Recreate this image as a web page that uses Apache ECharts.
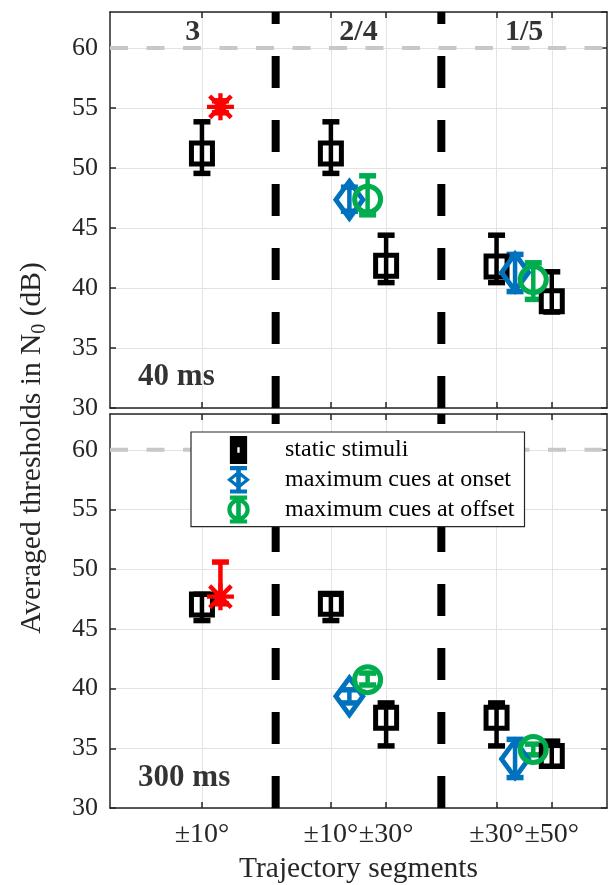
<!DOCTYPE html>
<html>
<head>
<meta charset="utf-8">
<script src="https://cdn.jsdelivr.net/npm/echarts@6/dist/echarts.min.js"></script>
<style>
  html, body { margin: 0; padding: 0; background: #fff; }
  #chart { width: 609px; height: 885px; }
</style>
</head>
<body>
<div id="chart"></div>
<script>
// axis ticks (x in segment units, 0..18)
const tickValues = [3.33, 8, 10, 14, 16];
const tickLabels = ['±10°', '±10°', '±30°', '±30°', '±50°'];
const segmentX = [3, 9, 15];
const segmentY = 61.3;
const segmentLabels = ['3', '2/4', '1/5'];
const boundaries = [6, 12];
const refLevel = 60;
const panelNames = ['40 ms', '300 ms'];

// 40 ms panel
const static40X = [3.33, 8, 10, 14, 16];
const static40Y = [51.2, 51.2, 41.85, 41.8, 38.9];
const static40Lo = [49.55, 49.55, 40.45, 40.45, 38.0];
const static40Hi = [53.85, 53.85, 44.4, 44.4, 41.35];
const onset40X = [8.67, 14.67];
const onset40Y = [47.35, 41.3];
const onset40Lo = [46.4, 39.7];
const onset40Hi = [48.4, 42.8];
const offset40X = [9.33, 15.33];
const offset40Y = [47.4, 40.7];
const offset40Lo = [46.1, 39.05];
const offset40Hi = [49.35, 42.1];
const moving40X = [4.0];
const moving40Y = [55.1];
const moving40Lo = [54.6];
const moving40Hi = [55.6];

// 300 ms panel
const static300X = [3.33, 8, 10, 14, 16];
const static300Y = [47.05, 47.1, 37.55, 37.55, 34.35];
const static300Lo = [45.7, 45.7, 35.2, 35.2, 33.5];
const static300Hi = [47.9, 47.9, 38.8, 38.8, 35.6];
const onset300X = [8.67, 14.67];
const onset300Y = [39.35, 34.1];
const onset300Lo = [38.8, 32.55];
const onset300Hi = [39.9, 35.75];
const offset300X = [9.33, 15.33];
const offset300Y = [40.75, 34.9];
const offset300Lo = [40.3, 34.45];
const offset300Hi = [41.3, 35.35];
const moving300X = [4.0];
const moving300Y = [47.7];
const moving300Lo = [47.1];
const moving300Hi = [50.6];

const FONT = 'Liberation Serif';
const AX = '#262626';
const BLUE = '#0072BD';
const GREEN = '#00AD4E';
const RED = '#FF0000';

const ASTERISK = 'path://M42,0H58V100H42Z M0,42H100V58H0Z M15.7,4.3L95.7,84.3L84.3,95.7L4.3,15.7Z M84.3,4.3L95.7,15.7L15.7,95.7L4.3,84.3Z';
// legend icons: marker + error bar, 100 x 120
const ICON_SQUARE = 'path://M13,0H87V120H13Z M45,48V72H55V48Z';
const ICON_DIAMOND = 'path://M13,0H87V18H13Z M13,102H87V120H13Z M50,20L100,60L50,100L0,60Z M50,38L22,60L50,82L78,60Z M40,0H60V120H40Z';
const ICON_CIRCLE = 'path://M13,0H87V18H13Z M13,102H87V120H13Z M2,60A48,48 0 1,1 98,60A48,48 0 1,1 2,60Z M20,60A30,30 0 1,0 80,60A30,30 0 1,0 20,60Z M40,0H60V120H40Z';

const chart = echarts.init(document.getElementById('chart'));

// error bar drawn through the axis scales
function errRender(params, api) {
  const x = api.value(0);
  const lo = api.coord([x, api.value(2)]);
  const hi = api.coord([x, api.value(3)]);
  const w = 8.5;
  const bar = { stroke: api.visual('color'), lineWidth: 4.5, fill: null };
  const cap = { stroke: api.visual('color'), lineWidth: 5.5, fill: null };
  return {
    type: 'group',
    children: [
      { type: 'line', shape: { x1: lo[0], y1: lo[1], x2: hi[0], y2: hi[1] }, style: bar },
      { type: 'line', shape: { x1: hi[0] - w, y1: hi[1], x2: hi[0] + w, y2: hi[1] }, style: cap },
      { type: 'line', shape: { x1: lo[0] - w, y1: lo[1], x2: lo[0] + w, y2: lo[1] }, style: cap }
    ]
  };
}

function errSeries(panel, xs, ys, lo, hi, color) {
  return {
    type: 'custom', name: 'err', xAxisIndex: panel * 2, yAxisIndex: panel * 2,
    renderItem: errRender, itemStyle: { color: color }, silent: true,
    encode: { x: 0, y: 1 },
    data: xs.map((x, i) => [x, ys[i], lo[i], hi[i]])
  };
}

function markerSeries(panel, name, xs, ys, symbol, size, color, filled) {
  return {
    type: 'scatter', name: name, xAxisIndex: panel * 2, yAxisIndex: panel * 2,
    symbol: symbol, symbolSize: size, silent: true,
    itemStyle: filled ? { color: color, opacity: 1 }
      : { color: 'rgba(0,0,0,0)', borderColor: color, borderWidth: 5, opacity: 1 },
    data: xs.map((x, i) => [x, ys[i]])
  };
}

function lineSeries(panel, pts, color, width, dash) {
  return {
    type: 'line', xAxisIndex: panel * 2, yAxisIndex: panel * 2, symbol: 'none', silent: true,
    lineStyle: { color: color, width: width, type: dash, cap: 'butt' },
    data: pts
  };
}

function textSeries(panel, pts, labels, size, pos) {
  return {
    type: 'scatter', xAxisIndex: panel * 2, yAxisIndex: panel * 2, symbolSize: 1, silent: true,
    itemStyle: { color: 'rgba(0,0,0,0)' },
    label: {
      show: true, position: pos, distance: 0, formatter: p => labels[p.dataIndex],
      fontFamily: FONT, fontWeight: 'bold', fontSize: size, color: '#000'
    },
    data: pts
  };
}

function panelSeries(panel, d) {
  return [
    lineSeries(panel, [[0, refLevel], [18, refLevel]], '#c8c8c8', 4, [18, 18.5]),
    lineSeries(panel, [[boundaries[0], 30], [boundaries[0], 63]], '#000', 8, [32, 32]),
    lineSeries(panel, [[boundaries[1], 30], [boundaries[1], 63]], '#000', 8, [32, 32]),
    errSeries(panel, d.sX, d.sY, d.sLo, d.sHi, '#000'),
    markerSeries(panel, 'static stimuli', d.sX, d.sY, 'rect', 21, '#000'),
    errSeries(panel, d.oX, d.oY, d.oLo, d.oHi, BLUE),
    markerSeries(panel, 'maximum cues at onset', d.oX, d.oY, 'diamond', [27, 37], BLUE),
    errSeries(panel, d.fX, d.fY, d.fLo, d.fHi, GREEN),
    markerSeries(panel, 'maximum cues at offset', d.fX, d.fY, 'circle', 26, GREEN),
    errSeries(panel, d.mX, d.mY, d.mLo, d.mHi, RED),
    markerSeries(panel, 'moving', d.mX, d.mY, ASTERISK, 27, RED, true),
    textSeries(panel, [[1.0, 32.55]], [panelNames[panel]], 31, 'right')
  ];
}

function xAxisFor(grid, pos, withLabels) {
  return {
    type: 'value', gridIndex: grid, position: pos, min: 0, max: 18,
    axisLine: { show: true, onZero: false, lineStyle: { color: AX, width: 1.5 } },
    axisTick: { show: true, inside: true, length: 6, customValues: tickValues, lineStyle: { color: AX, width: 1.5 } },
    axisLabel: withLabels ? {
      show: true, customValues: tickValues, margin: 13, color: AX, fontFamily: FONT, fontSize: 28,
      formatter: v => {
        let best = 0;
        tickValues.forEach((t, i) => { if (Math.abs(t - v) < Math.abs(tickValues[best] - v)) best = i; });
        return tickLabels[best];
      }
    } : { show: false },
    splitLine: { show: pos === 'bottom', lineStyle: { color: '#e3e3e3', width: 1 } },
    name: withLabels ? 'Trajectory segments' : '',
    nameLocation: 'middle', nameGap: 46,
    nameTextStyle: { fontFamily: FONT, fontSize: 29.5, color: AX }
  };
}

function yAxisFor(grid, pos) {
  const left = pos === 'left';
  return {
    type: 'value', gridIndex: grid, position: pos, min: 30, max: 63, interval: 5,
    axisLine: { show: true, onZero: false, lineStyle: { color: AX, width: 1.5 } },
    axisTick: { show: true, inside: true, length: 6, lineStyle: { color: AX, width: 1.5 } },
    axisLabel: left ? { show: true, showMaxLabel: false, margin: 12, color: AX, fontFamily: FONT, fontSize: 26 } : { show: false },
    splitLine: { show: left, lineStyle: { color: '#e3e3e3', width: 1 } }
  };
}

const panel40 = {
  sX: static40X, sY: static40Y, sLo: static40Lo, sHi: static40Hi,
  oX: onset40X, oY: onset40Y, oLo: onset40Lo, oHi: onset40Hi,
  fX: offset40X, fY: offset40Y, fLo: offset40Lo, fHi: offset40Hi,
  mX: moving40X, mY: moving40Y, mLo: moving40Lo, mHi: moving40Hi
};
const panel300 = {
  sX: static300X, sY: static300Y, sLo: static300Lo, sHi: static300Hi,
  oX: onset300X, oY: onset300Y, oLo: onset300Lo, oHi: onset300Hi,
  fX: offset300X, fY: offset300Y, fLo: offset300Lo, fHi: offset300Hi,
  mX: moving300X, mY: moving300Y, mLo: moving300Lo, mHi: moving300Hi
};

const option = {
  animation: false,
  backgroundColor: '#fff',
  grid: [
    { left: 110, top: 12, width: 497, height: 396 },
    { left: 110, top: 414, width: 497, height: 395 }
  ],
  xAxis: [
    xAxisFor(0, 'bottom', false), xAxisFor(0, 'top', false),
    xAxisFor(1, 'bottom', true), xAxisFor(1, 'top', false)
  ],
  yAxis: [
    yAxisFor(0, 'left'), yAxisFor(0, 'right'),
    yAxisFor(1, 'left'), yAxisFor(1, 'right')
  ],
  legend: {
    left: 191, top: 432, orient: 'vertical', selectedMode: false,
    padding: [4, 10, 3, 36], itemGap: 2, itemWidth: 23, itemHeight: 28,
    backgroundColor: '#fff', borderColor: AX, borderWidth: 1.2,
    textStyle: { fontFamily: FONT, fontSize: 24, color: '#000', padding: [0, 0, 0, 30] },
    data: [
      { name: 'static stimuli', icon: ICON_SQUARE, itemStyle: { color: '#000', borderWidth: 0 } },
      { name: 'maximum cues at onset', icon: ICON_DIAMOND, itemStyle: { color: BLUE, borderWidth: 0 } },
      { name: 'maximum cues at offset', icon: ICON_CIRCLE, itemStyle: { color: GREEN, borderWidth: 0 } }
    ]
  },
  graphic: [{
    type: 'text', x: 32, y: 448, rotation: Math.PI / 2,
    style: {
      text: '{a|Averaged thresholds in N}{b|0}{a| (dB)}',
      textAlign: 'center', textVerticalAlign: 'middle',
      rich: {
        a: { fontFamily: FONT, fontSize: 29.5, fill: AX, lineHeight: 34 },
        b: { fontFamily: FONT, fontSize: 20, fill: AX, padding: [16, 0, 0, 0] }
      }
    }
  }],
  series: [].concat(
    panelSeries(0, panel40),
    [textSeries(0, segmentX.map(x => [x, segmentY]), segmentLabels, 30, 'inside')],
    panelSeries(1, panel300)
  )
};

chart.setOption(option);
</script>
</body>
</html>
